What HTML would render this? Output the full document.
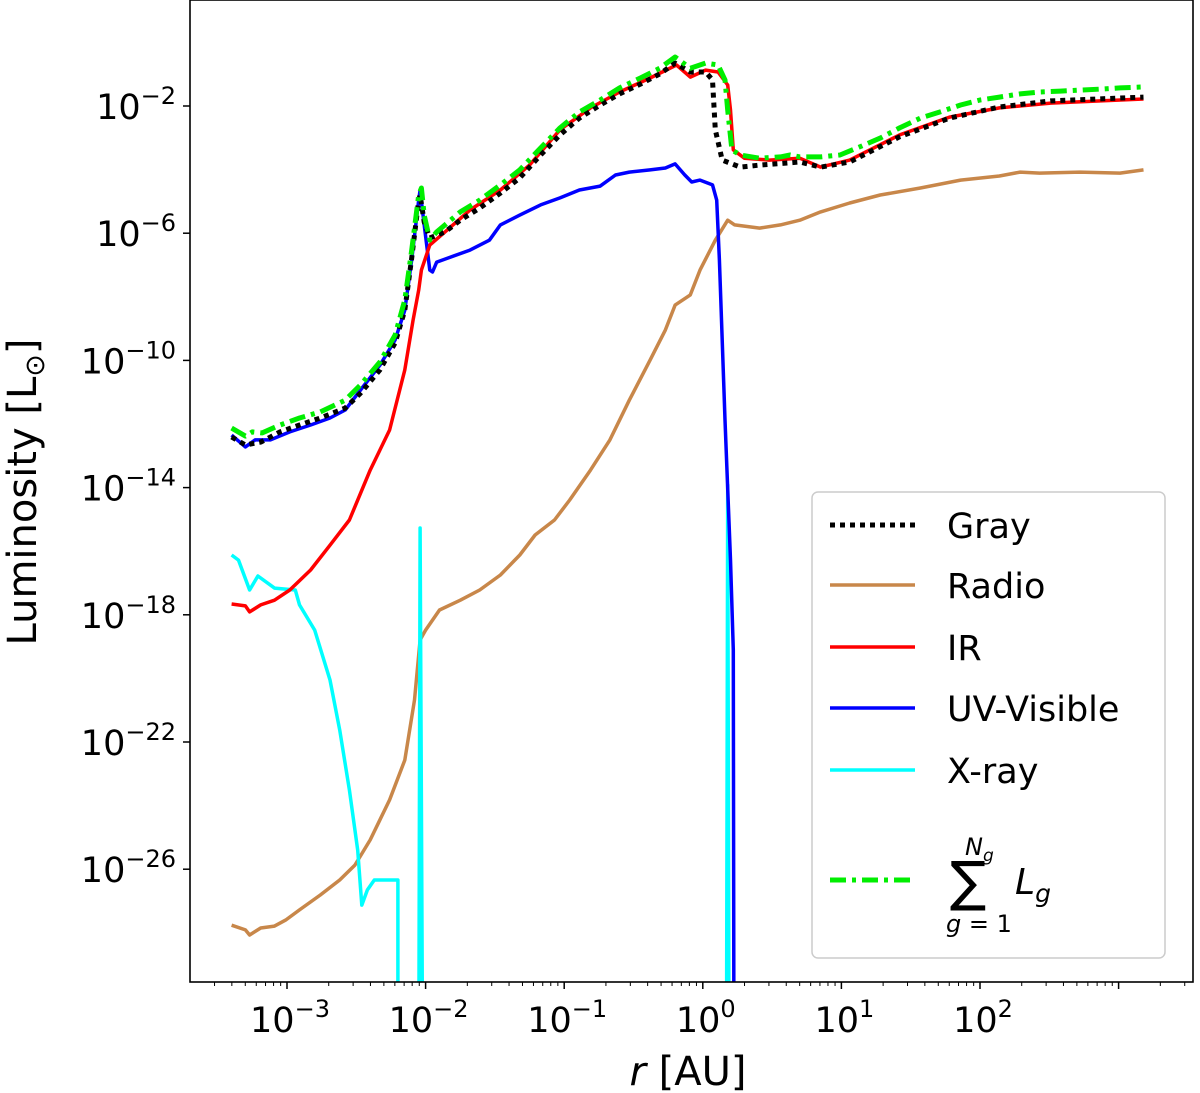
<!DOCTYPE html>
<html><head><meta charset="utf-8"><style>
body{margin:0;background:#fff}
svg{display:block;font-family:"DejaVu Sans","Liberation Sans",sans-serif}
</style></head><body>
<svg id="chart" width="1200" height="1093" viewBox="0 0 1200 1093">
<defs><clipPath id="clip"><rect x="190" y="0" width="1003" height="982"/></clipPath></defs>
<g id="series" clip-path="url(#clip)"></g>
<rect x="190" y="0" width="1003" height="982" fill="none" stroke="#000" stroke-width="1.6"/>
<g id="axes"></g>
<text x="688" y="1085" font-size="40" text-anchor="middle"><tspan font-style="italic">r</tspan> [AU]</text>
<text transform="translate(36,492) rotate(-90)" font-size="40" text-anchor="middle">Luminosity [L<tspan font-size="27" dy="8">⊙</tspan><tspan dy="-8">]</tspan></text>
<g>
<rect x="812" y="492" width="353" height="466" rx="6" fill="#fff" fill-opacity="0.8" stroke="#ccc" stroke-width="1.5"/>
<g><line x1="830" y1="525" x2="915" y2="525" stroke="#000" stroke-width="5" stroke-dasharray="5,5"/><text x="947" y="538" font-size="35">Gray</text></g>
<g><line x1="830" y1="585" x2="915" y2="585" stroke="#c8874a" stroke-width="3.5"/><text x="947" y="598" font-size="35">Radio</text></g>
<g><line x1="830" y1="647" x2="915" y2="647" stroke="#ff0000" stroke-width="3.5"/><text x="947" y="660" font-size="35">IR</text></g>
<g><line x1="830" y1="708" x2="915" y2="708" stroke="#0000ff" stroke-width="3.5"/><text x="947" y="721" font-size="35">UV-Visible</text></g>
<g><line x1="830" y1="770" x2="915" y2="770" stroke="#00ffff" stroke-width="3.5"/><text x="947" y="783" font-size="35">X-ray</text></g>
<g><line x1="830" y1="880" x2="915" y2="880" stroke="#00ee00" stroke-width="5" stroke-dasharray="16,6,4,6"/>
<text x="950" y="900" font-size="54">∑</text>
<text x="965" y="855" font-size="24" font-style="italic">N<tspan font-size="17" dy="6">g</tspan></text>
<text x="946" y="932" font-size="24"><tspan font-style="italic">g</tspan> = 1</text>
<text x="1015" y="894" font-size="36" font-style="italic">L<tspan font-size="25" dy="8">g</tspan></text></g>
</g>
</svg>
<script>
const grayR=[-3.40,-3.30,-3.19,-3.05,-2.91,-2.76,-2.58,-2.47,-2.33,-2.22,-2.15,-2.10,-2.05,-2.04,-2.01,-1.97,-1.86,-1.75,-1.61,-1.46,-1.32,-1.17,-1.03,-0.89,-0.74,-0.60,-0.45,-0.31,-0.20,-0.09,0.02,0.07,0.09,0.14,0.27,0.41,0.70,0.85,1.06,1.42,1.78,2.14,2.51,3.18];
const grayL=[-12.41,-12.66,-12.57,-12.25,-12.03,-11.81,-11.5,-11.03,-10.3,-9.45,-8.42,-6.78,-4.96,-4.8,-5.65,-6.15,-5.96,-5.59,-5.21,-4.74,-4.26,-3.54,-2.91,-2.38,-1.97,-1.62,-1.31,-0.99,-0.65,-0.93,-0.93,-1.18,-2.75,-3.7,-3.92,-3.86,-3.76,-3.92,-3.76,-2.97,-2.38,-2.03,-1.84,-1.72];
const radioR=[-3.40,-3.30,-3.27,-3.19,-3.09,-3.01,-2.91,-2.76,-2.62,-2.51,-2.40,-2.26,-2.15,-2.08,-2.04,-2.00,-1.90,-1.75,-1.61,-1.46,-1.32,-1.21,-1.07,-0.96,-0.81,-0.67,-0.53,-0.38,-0.27,-0.20,-0.09,-0.02,0.09,0.18,0.23,0.41,0.56,0.70,0.85,1.06,1.28,1.57,1.86,2.14,2.29,2.43,2.72,3.01,3.18];
const radioL=[-27.76,-27.91,-28.07,-27.85,-27.79,-27.6,-27.28,-26.81,-26.34,-25.87,-25.08,-23.82,-22.57,-20.68,-18.79,-18.48,-17.85,-17.54,-17.22,-16.75,-16.12,-15.49,-15.02,-14.39,-13.45,-12.5,-11.25,-9.99,-9.04,-8.26,-7.94,-7.16,-6.22,-5.59,-5.74,-5.84,-5.74,-5.59,-5.33,-5.05,-4.8,-4.58,-4.33,-4.2,-4.08,-4.11,-4.08,-4.11,-4.01];
const irR=[-3.40,-3.30,-3.27,-3.19,-3.09,-2.98,-2.83,-2.69,-2.55,-2.40,-2.26,-2.15,-2.09,-2.05,-2.03,-1.97,-1.86,-1.68,-1.46,-1.25,-1.03,-0.81,-0.60,-0.38,-0.19,-0.09,0.02,0.11,0.18,0.20,0.22,0.30,0.48,0.70,0.85,1.06,1.42,1.78,2.14,2.51,2.87,3.18];
const irL=[-17.66,-17.72,-17.91,-17.69,-17.54,-17.22,-16.59,-15.81,-15.02,-13.45,-12.19,-10.3,-8.73,-7.79,-7.16,-6.37,-5.96,-5.27,-4.64,-3.86,-2.75,-2.06,-1.56,-1.12,-0.71,-1.09,-0.87,-0.93,-1.34,-2.13,-3.38,-3.64,-3.7,-3.64,-3.92,-3.7,-2.91,-2.35,-2.06,-1.91,-1.84,-1.78];
const uvR=[-3.40,-3.30,-3.23,-3.12,-2.98,-2.83,-2.69,-2.58,-2.47,-2.33,-2.22,-2.15,-2.10,-2.05,-2.04,-2.01,-1.97,-1.95,-1.92,-1.82,-1.68,-1.54,-1.46,-1.32,-1.17,-1.03,-0.89,-0.74,-0.63,-0.53,-0.38,-0.27,-0.20,-0.13,-0.08,-0.02,0.07,0.10,0.12,0.16,0.20,0.22,0.225];
const uvL=[-12.35,-12.72,-12.5,-12.5,-12.25,-12.03,-11.81,-11.56,-10.93,-10.15,-9.36,-8.42,-6.84,-4.96,-4.64,-5.74,-7.16,-7.22,-6.91,-6.75,-6.53,-6.22,-5.74,-5.43,-5.11,-4.89,-4.64,-4.52,-4.17,-4.08,-4.01,-3.95,-3.82,-4.17,-4.39,-4.33,-4.48,-4.96,-6.84,-11.87,-16.28,-19.11,-40];
const xrayR=[-3.40,-3.35,-3.27,-3.21,-3.09,-2.94,-2.91,-2.80,-2.69,-2.62,-2.55,-2.49,-2.46,-2.42,-2.37,-2.20,-2.20,null,-2.05,-2.04,-2.02,null,0.17,0.18,0.19];
const xrayL=[-16.12,-16.28,-17.22,-16.78,-17.16,-17.22,-17.69,-18.48,-20.05,-21.62,-23.51,-25.4,-27.13,-26.65,-26.34,-26.34,-40,null,-40,-15.27,-40,null,-40,-13.92,-40];
const sumR=[-3.40,-3.30,-3.25,-3.18,-3.05,-2.91,-2.76,-2.58,-2.47,-2.33,-2.22,-2.15,-2.10,-2.05,-2.03,-2.01,-1.97,-1.92,-1.86,-1.75,-1.61,-1.46,-1.32,-1.17,-1.03,-0.89,-0.74,-0.60,-0.45,-0.31,-0.20,-0.09,0.02,0.11,0.16,0.18,0.21,0.27,0.41,0.56,0.63,0.70,0.85,0.99,1.13,1.28,1.42,1.57,1.71,1.86,2.00,2.14,2.29,2.43,2.58,2.72,2.87,3.01,3.18];
const sumL=[-12.13,-12.38,-12.25,-12.28,-12.03,-11.81,-11.62,-11.25,-10.77,-10.05,-9.2,-8.1,-6.53,-4.8,-4.58,-5.43,-6.22,-5.96,-5.74,-5.33,-4.96,-4.48,-4.01,-3.32,-2.69,-2.19,-1.81,-1.43,-1.12,-0.81,-0.46,-0.81,-0.65,-0.71,-1.18,-2.13,-3.38,-3.54,-3.64,-3.6,-3.54,-3.6,-3.6,-3.54,-3.29,-3.01,-2.69,-2.38,-2.19,-1.97,-1.81,-1.72,-1.62,-1.56,-1.53,-1.5,-1.47,-1.43,-1.40];
const yTickExp=[-2,-6,-10,-14,-18,-22,-26];
const xTickExp=[-3,-2,-1,0,1,2];

const NS='http://www.w3.org/2000/svg';
const X=lr=>287+(lr+3)*138.6;
const Y=ll=>106+(-2-ll)*31.8;
function mk(tag,at,parent){const e=document.createElementNS(NS,tag);for(const k in at)e.setAttribute(k,at[k]);parent.appendChild(e);return e;}
const sg=document.getElementById('series'),ax=document.getElementById('axes');
function line(R,L,color,w,dash,name){
  let d='',pen=false;
  for(let i=0;i<R.length;i++){
    if(R[i]===null){pen=false;continue;}
    d+=(pen?'L':'M')+X(R[i]).toFixed(1)+' '+Math.min(Y(L[i]),1100).toFixed(1)+' ';pen=true;
  }
  const p=mk('path',{d:d,fill:'none',stroke:color,'stroke-width':w,'stroke-linejoin':'round'},sg);
  if(dash)p.setAttribute('stroke-dasharray',dash);
  
  
}
line(radioR,radioL,'#c8874a',3.5,null,'radio-line');
line(xrayR,xrayL,'#00ffff',3.5,null,'xray-line');
line(uvR,uvL,'#0000ff',3.5,null,'uv-visible-line');
line(irR,irL,'#ff0000',3.5,null,'ir-line');
line(grayR,grayL,'#000',5,'5,5','gray-line');
line(sumR,sumL,'#00ee00',5,'16,6,4,6','sum-line');

yTickExp.forEach(e=>{
  const y=Y(e);
  const t=mk('line',{x1:183,x2:190,y1:y,y2:y,stroke:'#000','stroke-width':1.5},ax);
  
  
  const tx=mk('text',{x:176,y:y+13,'font-size':35,'text-anchor':'end'},ax);
  
  
  tx.innerHTML='10<tspan font-size="24" dy="-15">\u2212'+(-e)+'</tspan>';
});
for(let d=-4;d<=3;d++){for(let k=1;k<10;k++){
  const lr=d+Math.log10(k),x=X(lr);
  if(x<191||x>1192)continue;
  const t=mk('line',{x1:x,x2:x,y1:982,y2:k===1?989:986,stroke:'#000','stroke-width':k===1?1.5:1},ax);
  
  
}}
xTickExp.forEach(e=>{
  const tx=mk('text',{x:X(e)+3,y:1032,'font-size':35,'text-anchor':'middle'},ax);
  
  
  tx.innerHTML='10<tspan font-size="24" dy="-15">'+(e<0?'\u2212'+(-e):e)+'</tspan>';
});
</script>
</body></html>
